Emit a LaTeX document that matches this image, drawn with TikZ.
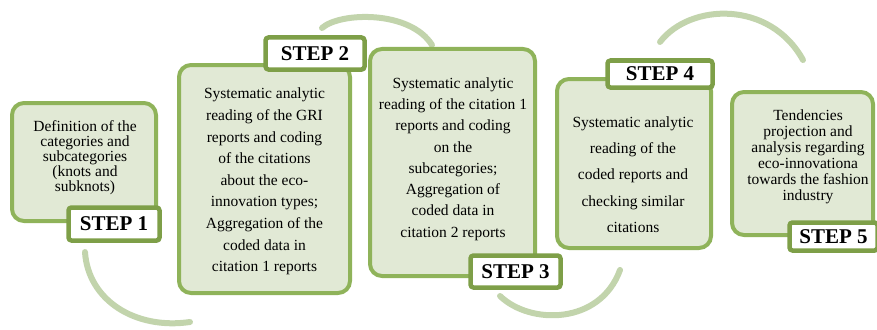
\documentclass[tikz,border=0pt]{standalone}
\usepackage{fontspec}
\setmainfont{Liberation Serif}
\newfontfamily\timesf{Liberation Serif}
\usetikzlibrary{shadows}
\definecolor{boxline}{HTML}{8FB35A}
\definecolor{boxfill}{HTML}{E1E9D5}
\definecolor{labline}{HTML}{7E9F48}
\definecolor{arccol}{HTML}{C2D4AC}
\tikzset{
  stepbox/.style={draw=boxline, line width=4pt, fill=boxfill, rounded corners=12pt, inner sep=0pt},
  steplabel/.style={draw=labline, line width=4.5pt, fill=white, rounded corners=3pt, inner sep=0pt,
     font=\timesf\fontsize{21}{21}\selectfont\bfseries,
     drop shadow={opacity=0.35, shadow xshift=1.5pt, shadow yshift=-2pt}},
  steptext/.style={align=center, inner sep=0pt},
  arcline/.style={draw=arccol, line width=6pt, line cap=round}
}
\begin{document}
\begin{tikzpicture}[x=1pt,y=-1pt]
\useasboundingbox (0,0) rectangle (877,329);
% decorative arcs
\coordinate (a1s) at (85,252);  \coordinate (a1e) at (190,322);
\coordinate (a2s) at (322,28);  \coordinate (a2e) at (432,45);
\coordinate (a3s) at (500,296); \coordinate (a3e) at (620,270);
\coordinate (a4s) at (660,42);  \coordinate (a4e) at (803,60);
\draw[arcline] (a1s) .. controls (88,300) and (135,330) .. (a1e);
\draw[arcline] (a2s) .. controls (340,12) and (410,10) .. (a2e);
\draw[arcline] (a3s) .. controls (530,325) and (600,325) .. (a3e);
\draw[arcline] (a4s) .. controls (690,3) and (770,0) .. (a4e);
% boxes
\node[stepbox, minimum width=144pt, minimum height=118pt] (b1) at (84,162) {};
\node[stepbox, minimum width=171pt, minimum height=228pt] (b2) at (264.5,179) {};
\node[stepbox, minimum width=165pt, minimum height=227pt] (b3) at (452.5,162.5) {};
\node[stepbox, minimum width=154pt, minimum height=169pt] (b4) at (634,163.5) {};
\node[stepbox, minimum width=141pt, minimum height=143pt] (b5) at (802.5,163.5) {};
% texts
\node[steptext, font=\timesf\fontsize{15.5}{15}\selectfont] (t1) at (85,158)
  {Definition of the\\categories and\\subcategories\\(knots and\\subknots)};
\node[steptext, font=\timesf\fontsize{15.5}{21.6}\selectfont] (t2) at (264.5,181.5)
  {Systematic analytic\\reading of the GRI\\reports and coding\\of the citations\\about the eco-\\innovation types;\\Aggregation of the\\coded data in\\citation 1 reports};
\node[steptext, font=\timesf\fontsize{15.5}{21.3}\selectfont] (t3) at (453,159)
  {Systematic analytic\\reading of the citation 1\\reports and coding\\on the\\subcategories;\\Aggregation of\\coded data in\\citation 2 reports};
\node[steptext, font=\timesf\fontsize{15.5}{26.2}\selectfont] (t4) at (633,174.5)
  {Systematic analytic\\reading of the\\coded reports and\\checking similar\\citations};
\node[steptext, font=\timesf\fontsize{15.5}{16}\selectfont] (t5) at (808,157)
  {Tendencies\\projection and\\analysis regarding\\eco-innovationa\\towards the fashion\\industry};
% step labels
\node[steplabel, minimum width=91pt, minimum height=33pt] (s1) at (114,224) {STEP 1};
\node[steplabel, minimum width=99pt, minimum height=32pt] (s2) at (315,53.5) {STEP 2};
\node[steplabel, minimum width=90pt, minimum height=32pt] (s3) at (515.5,271.5) {STEP 3};
\node[steplabel, minimum width=105pt, minimum height=27pt] (s4) at (660,74) {STEP 4};
\node[steplabel, minimum width=88pt, minimum height=28pt] (s5) at (833.5,236.5) {STEP 5};
\end{tikzpicture}
\end{document}
